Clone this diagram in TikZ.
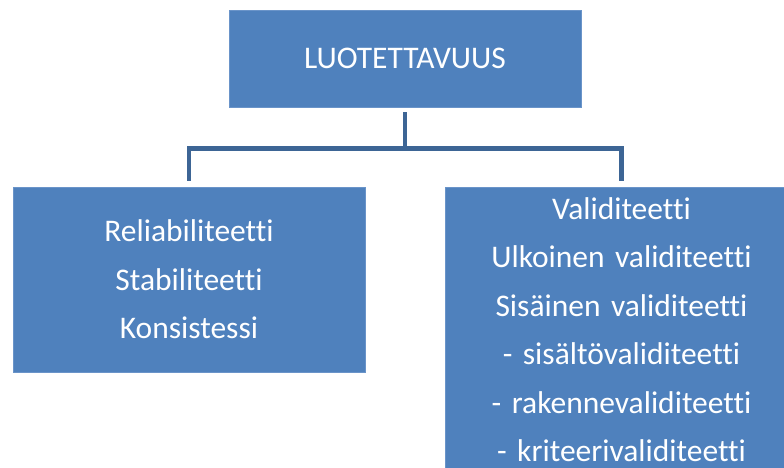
\documentclass[tikz,border=0pt]{standalone}
\usepackage{fontspec}
\setmainfont[Ligatures=NoCommon]{Carlito}
\usepackage{tikz}
\usetikzlibrary{calc}
\usetikzlibrary{positioning}

\definecolor{boxblue}{RGB}{79,129,189}
\definecolor{boxedge}{RGB}{106,148,201}
\definecolor{linkblue}{RGB}{61,101,149}

\begin{document}
\begin{tikzpicture}[x=1pt, y=1pt,
    box/.style={fill=boxblue, draw=boxedge, line width=0.75pt, text=white, align=center,
        font=\fontsize{31.5}{48.5}\selectfont, inner sep=0pt},
    link/.style={draw=linkblue, line width=4.5pt, line join=miter, shorten <=5pt, shorten >=6pt}]
    \useasboundingbox (0,0) rectangle (784,-468);

    \node[box, minimum width=352, minimum height=97] (root) at (405,-58.5) {LUOTETTAVUUS};
    \node[box, minimum width=352, minimum height=185] (rel) at (189,-279.5)
        {Reliabiliteetti\\Stabiliteetti\\Konsistessi};
    \node[box, anchor=north, text width=353, inner ysep=10pt] (val) at (621.5,-187)
        {Validiteetti\\Ulkoinen validiteetti\\Sisäinen validiteetti\\- sisältövaliditeetti\\- rakennevaliditeetti\\- kriteerivaliditeetti\\[10pt]};

    \draw[link] (root.south) -- ++(0,-41) -| (rel.north);
    \draw[link] (root.south) -- ++(0,-41) -| (val.north);
\end{tikzpicture}
\end{document}
